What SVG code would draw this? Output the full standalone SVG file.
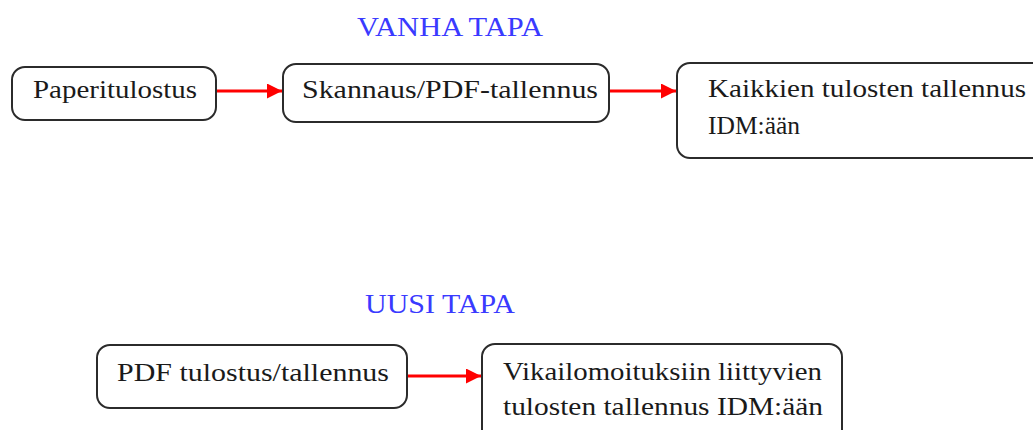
<svg xmlns="http://www.w3.org/2000/svg" width="1033" height="430" viewBox="0 0 1033 430">
  <style>
    .box { fill: #ffffff; stroke: #2b2b2b; stroke-width: 2; }
    .lbl { font-size: 26px; fill: #1a1a1a; }
    .title { font-size: 28px; fill: #3a3aff; }
    .conn { stroke: #ff0000; stroke-width: 3; fill: none; }
  </style>
  <defs>
    <marker id="arrow" viewBox="0 0 10 10" refX="10" refY="5" markerWidth="5" markerHeight="5" markerUnits="strokeWidth" orient="auto">
      <path d="M0,0 L10,5 L0,10 Z" fill="#ff0000"/>
    </marker>
  </defs>
  <rect width="1033" height="430" fill="#ffffff"/>

  <g font-family="'Liberation Serif', 'Times New Roman', 'DejaVu Serif', 'Noto Serif', serif">
    <!-- old process -->
    <text class="title" x="450" y="36" text-anchor="middle" textLength="186" lengthAdjust="spacingAndGlyphs">VANHA TAPA</text>

    <g id="paperitulostus">
      <rect class="box" x="12" y="67" width="204" height="53" rx="13"/>
      <text class="lbl" x="33" y="98" textLength="164" lengthAdjust="spacingAndGlyphs">Paperitulostus</text>
    </g>
    <g id="skannaus">
      <rect class="box" x="283" y="64" width="326" height="58" rx="13"/>
      <text class="lbl" x="302" y="98" textLength="296" lengthAdjust="spacingAndGlyphs">Skannaus/PDF-tallennus</text>
    </g>
    <g id="kaikkien-tulosten">
      <rect class="box" x="677" y="63" width="380" height="95" rx="13"/>
      <text class="lbl" x="708" y="97" textLength="318" lengthAdjust="spacingAndGlyphs">Kaikkien tulosten tallennus</text>
      <text class="lbl" x="708" y="134" textLength="92" lengthAdjust="spacingAndGlyphs">IDM:ään</text>
    </g>

    <!-- new process -->
    <text class="title" x="440" y="313" text-anchor="middle" textLength="150" lengthAdjust="spacingAndGlyphs">UUSI TAPA</text>

    <g id="pdf-tulostus">
      <rect class="box" x="97" y="345" width="310" height="63" rx="13"/>
      <text class="lbl" x="117" y="381" textLength="272" lengthAdjust="spacingAndGlyphs">PDF tulostus/tallennus</text>
    </g>
    <g id="vikailmoitukset">
      <rect class="box" x="482" y="344" width="360" height="100" rx="13"/>
      <text class="lbl" x="503" y="380" textLength="319" lengthAdjust="spacingAndGlyphs">Vikailomoituksiin liittyvien</text>
      <text class="lbl" x="503" y="415" textLength="320" lengthAdjust="spacingAndGlyphs">tulosten tallennus IDM:ään</text>
    </g>
  </g>

  <g id="connectors">
    <line class="conn" x1="217" y1="91" x2="282" y2="91" marker-end="url(#arrow)"/>
    <line class="conn" x1="610" y1="91" x2="676" y2="91" marker-end="url(#arrow)"/>
    <line class="conn" x1="408" y1="376" x2="481" y2="376" marker-end="url(#arrow)"/>
  </g>
</svg>
